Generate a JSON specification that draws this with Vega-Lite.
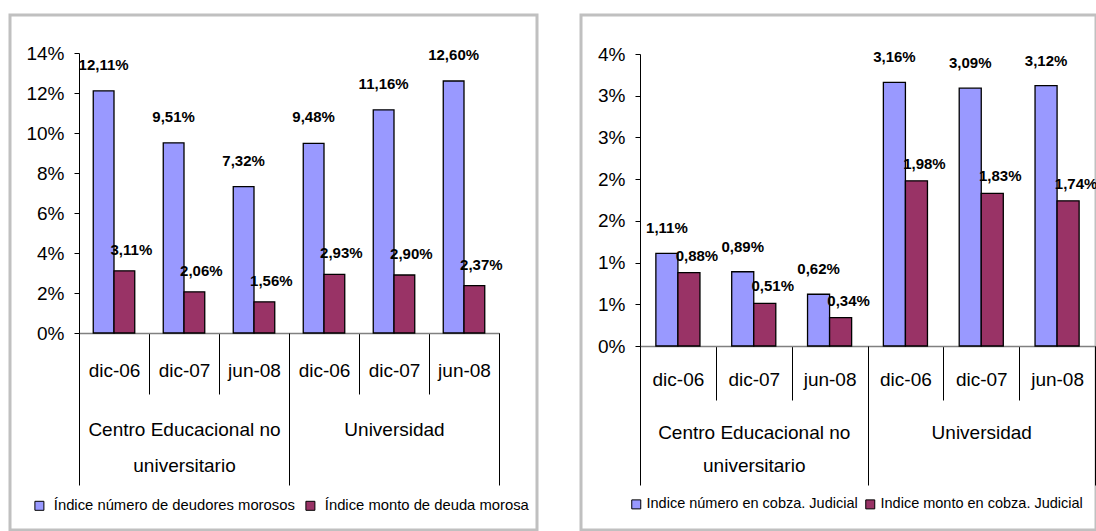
{
  "$schema": "https://vega.github.io/schema/vega-lite/v6.json",
  "padding": {"left": 8, "top": 13, "right": 0, "bottom": 0},
  "spacing": 44,
  "bounds": "flush",
  "config": {
    "locale": {"number": {"decimal": ",", "thousands": ".", "grouping": [3], "currency": ["$", ""]}},
    "font": "Liberation Sans",
    "view": {"stroke": "#c0c0c0", "strokeWidth": 3},
    "axis": {"labelColor": "black", "title": null, "grid": false, "labelFont": "Liberation Sans"},
    "legend": {"labelFont": "Liberation Sans", "padding": 0}
  },
  "datasets": {
    "morosidad": [
      {"grupo": "Centro Educacional no universitario", "fecha": "dic-06", "serie": "Índice número de deudores morosos", "valor": 0.1211},
      {"grupo": "Centro Educacional no universitario", "fecha": "dic-06", "serie": "Índice monto de deuda morosa", "valor": 0.0311},
      {"grupo": "Centro Educacional no universitario", "fecha": "dic-07", "serie": "Índice número de deudores morosos", "valor": 0.0951},
      {"grupo": "Centro Educacional no universitario", "fecha": "dic-07", "serie": "Índice monto de deuda morosa", "valor": 0.0206},
      {"grupo": "Centro Educacional no universitario", "fecha": "jun-08", "serie": "Índice número de deudores morosos", "valor": 0.0732},
      {"grupo": "Centro Educacional no universitario", "fecha": "jun-08", "serie": "Índice monto de deuda morosa", "valor": 0.0156},
      {"grupo": "Universidad", "fecha": "dic-06", "serie": "Índice número de deudores morosos", "valor": 0.0948},
      {"grupo": "Universidad", "fecha": "dic-06", "serie": "Índice monto de deuda morosa", "valor": 0.0293},
      {"grupo": "Universidad", "fecha": "dic-07", "serie": "Índice número de deudores morosos", "valor": 0.1116},
      {"grupo": "Universidad", "fecha": "dic-07", "serie": "Índice monto de deuda morosa", "valor": 0.0290},
      {"grupo": "Universidad", "fecha": "jun-08", "serie": "Índice número de deudores morosos", "valor": 0.1260},
      {"grupo": "Universidad", "fecha": "jun-08", "serie": "Índice monto de deuda morosa", "valor": 0.0237}
    ],
    "judicial": [
      {"grupo": "Centro Educacional no universitario", "fecha": "dic-06", "serie": "Indice número en cobza. Judicial", "valor": 0.0111},
      {"grupo": "Centro Educacional no universitario", "fecha": "dic-06", "serie": "Indice monto en cobza. Judicial", "valor": 0.0088},
      {"grupo": "Centro Educacional no universitario", "fecha": "dic-07", "serie": "Indice número en cobza. Judicial", "valor": 0.0089},
      {"grupo": "Centro Educacional no universitario", "fecha": "dic-07", "serie": "Indice monto en cobza. Judicial", "valor": 0.0051},
      {"grupo": "Centro Educacional no universitario", "fecha": "jun-08", "serie": "Indice número en cobza. Judicial", "valor": 0.0062},
      {"grupo": "Centro Educacional no universitario", "fecha": "jun-08", "serie": "Indice monto en cobza. Judicial", "valor": 0.0034},
      {"grupo": "Universidad", "fecha": "dic-06", "serie": "Indice número en cobza. Judicial", "valor": 0.0316},
      {"grupo": "Universidad", "fecha": "dic-06", "serie": "Indice monto en cobza. Judicial", "valor": 0.0198},
      {"grupo": "Universidad", "fecha": "dic-07", "serie": "Indice número en cobza. Judicial", "valor": 0.0309},
      {"grupo": "Universidad", "fecha": "dic-07", "serie": "Indice monto en cobza. Judicial", "valor": 0.0183},
      {"grupo": "Universidad", "fecha": "jun-08", "serie": "Indice número en cobza. Judicial", "valor": 0.0312},
      {"grupo": "Universidad", "fecha": "jun-08", "serie": "Indice monto en cobza. Judicial", "valor": 0.0174}
    ]
  },
  "resolve": {"scale": {"x": "independent", "y": "independent", "xOffset": "independent", "color": "independent"}, "legend": {"color": "independent"}},
  "hconcat": [
    {
      "width": 527,
      "height": 515,
      "data": {"name": "morosidad"},
      "transform": [{"calculate": "datum.grupo + '|' + datum.fecha", "as": "clave"}],
      "layer": [
        {
          "layer": [
            {
              "mark": {"type": "bar", "stroke": "black", "strokeWidth": 1.3},
              "encoding": {
                "x": {"field": "clave", "type": "nominal", "sort": null,
                  "scale": {"range": [69, 489], "paddingInner": 0, "paddingOuter": 0},
                  "axis": {"orient": "bottom", "offset": -197, "tickBand": "extent", "tickSize": 61, "tickColor": "black", "tickWidth": 1, "domainColor": "#808080", "domainWidth": 1.5, "labelExpr": "split(datum.value, '|')[1]", "labelFontSize": 19, "labelAngle": 0, "labelBaseline": "middle", "labelPadding": -23.5}},
                "xOffset": {"field": "serie", "type": "nominal", "scale": {"domain": ["Índice número de deudores morosos", "Índice monto de deuda morosa"], "paddingOuter": 0.687, "paddingInner": 0}},
                "y": {"field": "valor", "type": "quantitative",
                  "scale": {"domain": [0, 0.14], "range": [318, 38], "nice": false},
                  "axis": {"orient": "left", "offset": -69, "values": [0, 0.02, 0.04, 0.06, 0.08, 0.1, 0.12, 0.14], "format": ".0%", "tickSize": 5, "tickColor": "black", "domainColor": "black", "labelFontSize": 19, "labelPadding": 10}},
                "color": {"field": "serie", "type": "nominal",
                  "scale": {"domain": ["Índice número de deudores morosos", "Índice monto de deuda morosa"], "range": ["#9999FF", "#993366"]},
                  "legend": {"orient": "none", "legendX": 22, "legendY": 483, "direction": "horizontal", "title": null, "symbolType": "square", "symbolSize": 81, "symbolStrokeColor": "black", "symbolStrokeWidth": 1, "symbolOpacity": 1, "labelFontSize": 14.8, "labelColor": "black", "labelOffset": 7, "columnPadding": 8, "labelLimit": 400}}
              }
            },
            {
              "transform": [{"filter": "datum.serie == 'Índice número de deudores morosos'"}],
              "mark": {"type": "text", "fontWeight": "bold", "fontSize": 15, "color": "black", "baseline": "middle", "dy": -26},
              "encoding": {
                "x": {"field": "clave", "type": "nominal", "sort": null},
                "xOffset": {"field": "serie", "type": "nominal"},
                "y": {"field": "valor", "type": "quantitative"},
                "text": {"field": "valor", "type": "quantitative", "format": ".2%"}
              }
            },
            {
              "transform": [{"filter": "datum.serie == 'Índice monto de deuda morosa'"}],
              "mark": {"type": "text", "fontWeight": "bold", "fontSize": 15, "color": "black", "baseline": "middle", "dy": -21, "dx": 7},
              "encoding": {
                "x": {"field": "clave", "type": "nominal", "sort": null},
                "xOffset": {"field": "serie", "type": "nominal"},
                "y": {"field": "valor", "type": "quantitative"},
                "text": {"field": "valor", "type": "quantitative", "format": ".2%"}
              }
            }
          ]
        },
        {
          "mark": {"type": "rule", "opacity": 0},
          "encoding": {
            "x": {"field": "grupo", "type": "nominal", "sort": null,
              "scale": {"range": [69, 489], "paddingInner": 0, "paddingOuter": 0},
              "axis": {"orient": "bottom", "offset": -197, "tickBand": "extent", "tickSize": 152, "tickColor": "black", "tickWidth": 1, "domain": false, "labelExpr": "datum.value == 'Centro Educacional no universitario' ? ['Centro Educacional no', 'universitario'] : datum.value", "labelFontSize": 19, "labelAngle": 0, "labelBaseline": "top", "labelLineHeight": 36, "labelPadding": -65, "labelLimit": 400}}
          }
        }
      ],
      "resolve": {"scale": {"x": "independent"}, "axis": {"x": "independent"}}
    },
    {
      "width": 515,
      "height": 515,
      "data": {"name": "judicial"},
      "transform": [{"calculate": "datum.grupo + '|' + datum.fecha", "as": "clave"}],
      "layer": [
        {
          "layer": [
            {
              "mark": {"type": "bar", "stroke": "black", "strokeWidth": 1.3},
              "encoding": {
                "x": {"field": "clave", "type": "nominal", "sort": null,
                  "scale": {"range": [59, 514], "paddingInner": 0, "paddingOuter": 0},
                  "axis": {"orient": "bottom", "offset": -184, "tickBand": "extent", "tickSize": 54, "tickColor": "black", "tickWidth": 1, "domainColor": "#808080", "domainWidth": 1.5, "labelExpr": "split(datum.value, '|')[1]", "labelFontSize": 19, "labelAngle": 0, "labelBaseline": "middle", "labelPadding": -21}},
                "xOffset": {"field": "serie", "type": "nominal", "scale": {"domain": ["Indice número en cobza. Judicial", "Indice monto en cobza. Judicial"], "paddingOuter": 0.72, "paddingInner": 0}},
                "y": {"field": "valor", "type": "quantitative",
                  "scale": {"domain": [0, 0.035], "range": [331, 39], "nice": false},
                  "axis": {"orient": "left", "offset": -59, "values": [0, 0.005, 0.01, 0.015, 0.02, 0.025, 0.03, 0.035], "format": ".0%", "tickSize": 5, "tickColor": "black", "domainColor": "black", "labelFontSize": 19, "labelPadding": 10}},
                "color": {"field": "serie", "type": "nominal",
                  "scale": {"domain": ["Indice número en cobza. Judicial", "Indice monto en cobza. Judicial"], "range": ["#9999FF", "#993366"]},
                  "legend": {"orient": "none", "legendX": 48, "legendY": 482, "direction": "horizontal", "title": null, "symbolType": "square", "symbolSize": 81, "symbolStrokeColor": "black", "symbolStrokeWidth": 1, "symbolOpacity": 1, "labelFontSize": 14.5, "labelColor": "black", "labelOffset": 3, "columnPadding": 5, "labelLimit": 400}}
              }
            },
            {
              "transform": [{"filter": "datum.serie == 'Indice número en cobza. Judicial'"}],
              "mark": {"type": "text", "fontWeight": "bold", "fontSize": 15, "color": "black", "baseline": "middle", "dy": -25},
              "encoding": {
                "x": {"field": "clave", "type": "nominal", "sort": null},
                "xOffset": {"field": "serie", "type": "nominal"},
                "y": {"field": "valor", "type": "quantitative"},
                "text": {"field": "valor", "type": "quantitative", "format": ".2%"}
              }
            },
            {
              "transform": [{"filter": "datum.serie == 'Indice monto en cobza. Judicial'"}],
              "mark": {"type": "text", "fontWeight": "bold", "fontSize": 15, "color": "black", "baseline": "middle", "dy": -17, "dx": 8},
              "encoding": {
                "x": {"field": "clave", "type": "nominal", "sort": null},
                "xOffset": {"field": "serie", "type": "nominal"},
                "y": {"field": "valor", "type": "quantitative"},
                "text": {"field": "valor", "type": "quantitative", "format": ".2%"}
              }
            }
          ]
        },
        {
          "mark": {"type": "rule", "opacity": 0},
          "encoding": {
            "x": {"field": "grupo", "type": "nominal", "sort": null,
              "scale": {"range": [59, 514], "paddingInner": 0, "paddingOuter": 0},
              "axis": {"orient": "bottom", "offset": -184, "tickBand": "extent", "tickSize": 139, "tickColor": "black", "tickWidth": 1, "domain": false, "labelExpr": "datum.value == 'Centro Educacional no universitario' ? ['Centro Educacional no', 'universitario'] : datum.value", "labelFontSize": 19, "labelAngle": 0, "labelBaseline": "top", "labelLineHeight": 33, "labelPadding": -62, "labelLimit": 400}}
          }
        }
      ],
      "resolve": {"scale": {"x": "independent"}, "axis": {"x": "independent"}}
    }
  ]
}
